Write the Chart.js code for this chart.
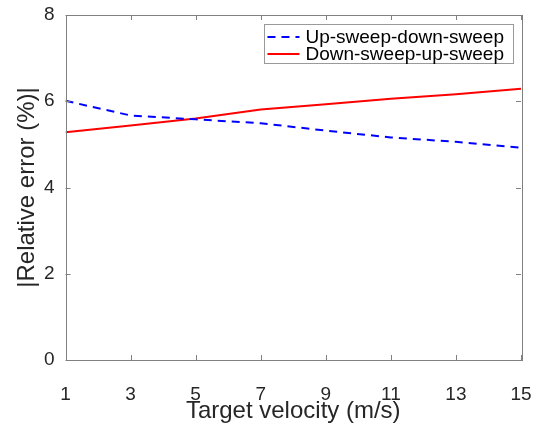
<!DOCTYPE html>
<html>
<head>
<meta charset="utf-8">
<script src="https://cdn.jsdelivr.net/npm/chart.js@4.4.1/dist/chart.umd.min.js"></script>
<style>
  html, body { margin: 0; padding: 0; background: #fff; }
  #wrap { width: 538px; height: 426px; }
</style>
</head>
<body>
<div id="wrap"><canvas id="grafico"></canvas></div>
<script>
const velocidades = [1, 3, 5, 7, 9, 11, 13, 15];
const upDown = [6.01, 5.67, 5.58, 5.49, 5.32, 5.16, 5.06, 4.92];
const downUp = [5.28, 5.44, 5.60, 5.81, 5.93, 6.06, 6.16, 6.29];
const xTicks = [1, 3, 5, 7, 9, 11, 13, 15];
const yTicks = [0, 2, 4, 6, 8];

const fonte = '"Liberation Sans", Arial, Helvetica, sans-serif';
const corEixo = '#808080';
const corTexto = '#262626';

// caixa em volta do grafico com ticks pra dentro (estilo matlab)
const caixaPlugin = {
  id: 'caixa',
  afterDatasetsDraw(chart) {
    const {ctx, chartArea: a, scales} = chart;
    ctx.save();
    ctx.strokeStyle = corEixo;
    ctx.lineWidth = 1;
    ctx.strokeRect(Math.round(a.left) + 0.5, Math.round(a.top) + 0.5,
      Math.round(a.right - a.left), Math.round(a.bottom - a.top));
    ctx.beginPath();
    const t = 5;
    xTicks.forEach(v => {
      const px = Math.round(scales.x.getPixelForValue(v)) + 0.5;
      ctx.moveTo(px, a.bottom); ctx.lineTo(px, a.bottom - t);
      ctx.moveTo(px, a.top); ctx.lineTo(px, a.top + t);
    });
    yTicks.forEach(v => {
      const py = Math.round(scales.y.getPixelForValue(v)) + 0.5;
      ctx.moveTo(a.left, py); ctx.lineTo(a.left + t, py);
      ctx.moveTo(a.right, py); ctx.lineTo(a.right - t, py);
    });
    ctx.stroke();

    // legenda
    ctx.font = '19px ' + fonte;
    const ds = chart.data.datasets;
    let largura = 0;
    ds.forEach(d => { largura = Math.max(largura, ctx.measureText(d.label).width); });
    const dir = a.right - 8;
    const esq = dir - largura - 50;
    const topo = a.top + 9;
    const alt = 39;
    ctx.fillStyle = '#fff';
    ctx.fillRect(esq, topo, dir - esq, alt);
    ctx.strokeStyle = '#9a9a9a';
    ctx.strokeRect(Math.round(esq) + 0.5, Math.round(topo) + 0.5, Math.round(dir - esq), alt);
    ds.forEach((d, i) => {
      const y = topo + 13 + i * 17;
      ctx.beginPath();
      ctx.strokeStyle = d.borderColor;
      ctx.lineWidth = 2;
      ctx.setLineDash(d.borderDash || []);
      ctx.moveTo(esq + 3, y); ctx.lineTo(esq + 35, y);
      ctx.stroke();
      ctx.setLineDash([]);
      ctx.fillStyle = '#000';
      ctx.textBaseline = 'middle';
      ctx.textAlign = 'left';
      ctx.fillText(d.label, esq + 41, y + 1);
    });
    ctx.restore();
  }
};

new Chart(document.getElementById('grafico'), {
  type: 'line',
  data: {
    labels: velocidades,
    datasets: [{
      label: 'Up-sweep-down-sweep',
      data: velocidades.map((v, i) => ({x: v, y: upDown[i]})),
      borderColor: '#0000ff',
      borderWidth: 2,
      borderDash: [8, 6],
      pointRadius: 0,
      tension: 0
    }, {
      label: 'Down-sweep-up-sweep',
      data: velocidades.map((v, i) => ({x: v, y: downUp[i]})),
      borderColor: '#ff0000',
      borderWidth: 2,
      pointRadius: 0,
      tension: 0
    }]
  },
  options: {
    responsive: true,
    maintainAspectRatio: false,
    animation: false,
    layout: { padding: { top: 15, right: 17, left: 0, bottom: 0 } },
    plugins: { legend: { display: false }, tooltip: { enabled: false } },
    scales: {
      x: {
        type: 'linear',
        min: 1, max: 15,
        afterBuildTicks: s => { s.ticks = xTicks.map(v => ({value: v})); },
        afterFit: s => { s.height = 66; s.paddingLeft = 0; s.paddingRight = 0; },
        grid: { display: false, drawTicks: false },
        border: { display: false },
        ticks: { font: { family: fonte, size: 19 }, color: corTexto, padding: 23, maxRotation: 0 },
        title: { display: true, text: 'Target velocity (m/s)', font: { family: fonte, size: 24 }, color: corTexto, padding: { top: 0, bottom: 0 } }
      },
      y: {
        min: 0, max: 8,
        afterBuildTicks: s => { s.ticks = yTicks.map(v => ({value: v})); },
        afterFit: s => { s.width = 65.5; s.paddingTop = 0; s.paddingBottom = 0; },
        grid: { display: false, drawTicks: false },
        border: { display: false },
        ticks: { font: { family: fonte, size: 19 }, color: corTexto, padding: 11 },
        title: { display: true, text: '|Relative error (%)|', font: { family: fonte, size: 24 }, color: corTexto, padding: { top: 13, bottom: 0 } }
      }
    }
  },
  plugins: [caixaPlugin]
});
</script>
</body>
</html>
